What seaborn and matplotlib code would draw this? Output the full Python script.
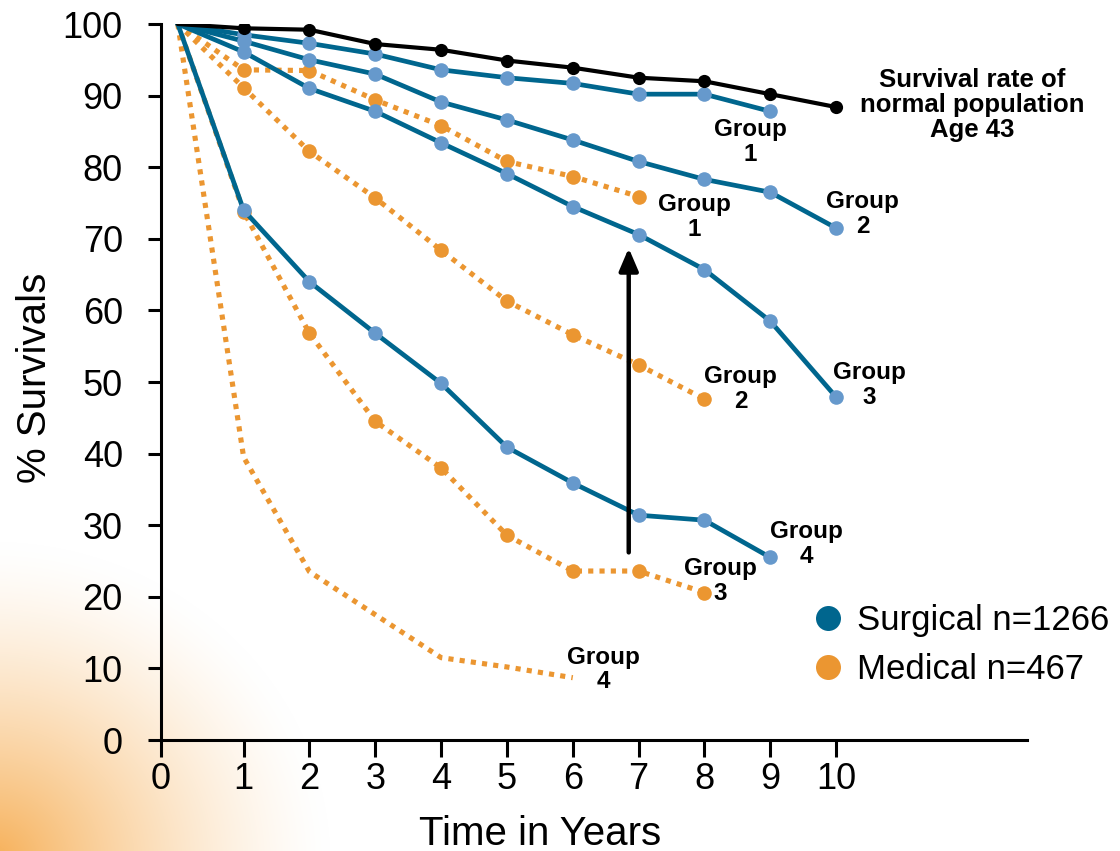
import numpy as np
import pandas as pd
import matplotlib
matplotlib.use("Agg")
import matplotlib.pyplot as plt
from matplotlib.lines import Line2D
import seaborn as sns

# ---- survival data (% alive by year of follow-up) ----
years = list(range(0, 11))
normal_population = [100, 99.4, 99.2, 97.2, 96.4, 94.9, 93.9, 92.5, 92.0, 90.2, 88.4]

surgical_group1 = [100, 98.5, 97.3, 95.8, 93.6, 92.5, 91.7, 90.2, 90.2, 87.8]
surgical_group2 = [100, 97.6, 95.0, 93.0, 89.1, 86.6, 83.8, 80.8, 78.3, 76.5, 71.5]
surgical_group3 = [100, 96.1, 91.0, 87.8, 83.4, 79.1, 74.5, 70.6, 65.7, 58.5, 47.9]
surgical_group4 = [100, 74.0, 64.0, 56.8, 49.8, 40.9, 35.9, 31.4, 30.7, 25.5]

medical_group1 = [100, 93.6, 93.5, 89.4, 85.8, 80.8, 78.7, 75.9]
medical_group2 = [100, 91.1, 82.2, 75.7, 68.4, 61.3, 56.6, 52.4, 47.6]
medical_group3 = [100, 73.8, 56.8, 44.5, 38.0, 28.6, 23.6, 23.6, 20.6]
medical_group4 = [100, 39.5, 23.5, 17.5, 11.5, 10.2, 8.7]

x_tick_labels = [str(v) for v in range(0, 11)]
legend_labels = ["Surgical n=1266", "Medical n=467"]

series = {
    "Normal": normal_population,
    "Surgical 1": surgical_group1,
    "Surgical 2": surgical_group2,
    "Surgical 3": surgical_group3,
    "Surgical 4": surgical_group4,
    "Medical 1": medical_group1,
    "Medical 2": medical_group2,
    "Medical 3": medical_group3,
    "Medical 4": medical_group4,
}

rows = []
for name, vals in series.items():
    for yr, v in zip(years, vals):
        rows.append({"Series": name, "Year": yr, "Survival": v})
df = pd.DataFrame(rows)

# ---- styling ----
TEAL = "#00668e"
LIGHT_BLUE = "#6699cc"
ORANGE = "#eb9631"

sns.set_theme(style="ticks")
plt.rcParams["font.family"] = ["Liberation Sans", "DejaVu Sans"]
plt.rcParams["text.color"] = "black"
plt.rcParams["axes.labelcolor"] = "black"

W, H = 1120, 851
fig = plt.figure(figsize=(W / 100, H / 100), dpi=100)

# soft orange glow in the lower-left corner
bg = fig.add_axes([0, 0, 1, 1], zorder=-10)
yy, xx = np.mgrid[0:H, 0:W]
d = np.sqrt(((xx + 10) / 340.0) ** 2 + ((H + 10 - yy) / 320.0) ** 2)
a = np.clip(1 - d, 0, 1) ** 1.4 * 0.85
glow = np.array([0.96, 0.63, 0.22])
img = 1 - a[..., None] * (1 - glow[None, None, :])
bg.imshow(img, extent=[0, 1, 0, 1], aspect="auto", origin="upper")
bg.axis("off")

ax = fig.add_axes([161 / W, (H - 740) / H, (1027 - 161) / W, (740 - 24) / H])
ax.set_facecolor("none")

styles = {
    "Normal": dict(color="black", linestyle="-", lw=3.0, mfc="black", ms=9.5),
    "Surgical": dict(color=TEAL, linestyle="-", lw=3.4, mfc=LIGHT_BLUE, ms=10.5),
    "Medical": dict(color=ORANGE, linestyle=(0, (1.0, 1.2)), lw=3.7, mfc=ORANGE, ms=10.5),
}

for name, vals in series.items():
    kind = name.split()[0]
    st = styles[kind]
    sub = df[df["Series"] == name]
    show_markers = name != "Medical 4"
    sns.lineplot(
        data=sub, x="Year", y="Survival", ax=ax,
        color=st["color"], linestyle=st["linestyle"], lw=st["lw"],
        marker="o" if show_markers else None,
        markersize=st["ms"], markerfacecolor=st["mfc"],
        markeredgewidth=0, markevery=list(range(1, len(vals))),
        dash_capstyle="butt", errorbar=None, legend=False,
        zorder=3 if kind == "Surgical" else (4 if kind == "Normal" else 2),
    )

ax.set_xlim(-0.255, 12.9)
ax.set_ylim(0, 100)
ax.set_xticks([-0.255] + list(range(1, 11)))
ax.set_xticklabels(x_tick_labels)
ax.set_yticks(range(0, 101, 10))
for s in ["top", "right"]:
    ax.spines[s].set_visible(False)
for s in ["left", "bottom"]:
    ax.spines[s].set_linewidth(2.2)
    ax.spines[s].set_color("black")
ax.tick_params(axis="x", direction="out", length=12, width=2.2, labelsize=26, pad=4, colors="black")
ax.tick_params(axis="y", direction="out", length=9.5, width=2.2, labelsize=26, pad=18, colors="black")

ax.set_xlabel("Time in Years", fontsize=29, color="black")
ax.xaxis.set_label_coords(0.4377, -0.105)
ax.set_ylabel("% Survivals", fontsize=29, color="black")
ax.yaxis.set_label_coords(-0.1236, 0.5056)

# group labels
lab = dict(fontsize=17.5, fontweight="bold", ha="center", va="center",
           linespacing=1.1, color="black")
ax.text(8.70, 83.5, "Group\n1", **lab)
ax.text(7.85, 73.0, "Group\n1", **lab)
ax.text(10.40, 73.5, "Group\n2", **lab)
ax.text(8.55, 49.0, "Group\n2", **lab)
ax.text(10.50, 49.6, "Group\n3", **lab)
ax.text(9.55, 27.4, "Group\n4", **lab)
ax.text(8.24, 22.2, "Group\n3", **lab)
ax.text(6.47, 9.85, "Group\n4", **lab)
ax.text(12.07, 88.7, "Survival rate of\nnormal population\nAge 43",
        fontsize=18.5, fontweight="bold", ha="center", va="center",
        linespacing=1.05, color="black")

# improvement arrow
ax.annotate("", xy=(6.85, 68.7), xytext=(6.85, 26.2),
            arrowprops=dict(arrowstyle="-|>,head_length=0.75,head_width=0.32",
                            lw=3.2, color="black", shrinkA=0, shrinkB=0,
                            mutation_scale=18), zorder=5)

handles = [
    Line2D([], [], linestyle="none", marker="o", markersize=18,
           markerfacecolor=TEAL, markeredgewidth=0),
    Line2D([], [], linestyle="none", marker="o", markersize=18,
           markerfacecolor=ORANGE, markeredgewidth=0),
]
leg = ax.legend(handles, legend_labels, loc="center left",
                bbox_to_anchor=(796.5 / W, 1 - 645 / H), bbox_transform=fig.transFigure,
                frameon=False, fontsize=25, handlelength=1.0, handletextpad=0.33,
                labelspacing=0.45, borderaxespad=0)
for t in leg.get_texts():
    t.set_color("black")

fig.savefig("out.png", dpi=100)
